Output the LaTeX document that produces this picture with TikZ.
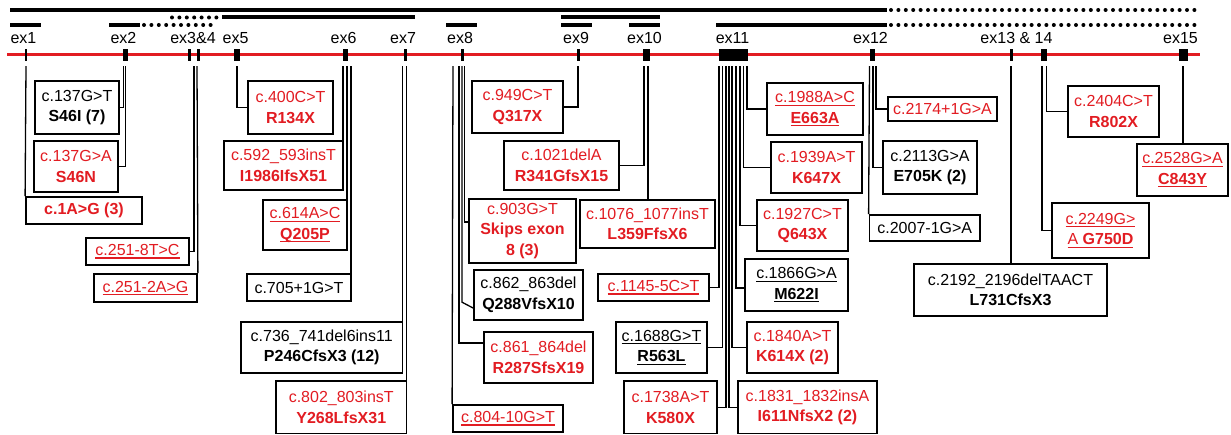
\documentclass[tikz,border=0pt]{standalone}
\usepackage{fontspec}
\setmainfont{Liberation Sans}
\usetikzlibrary{calc}
\definecolor{myred}{RGB}{226,28,34}
\newcommand\uln[1]{\leavevmode\setbox0=\hbox{#1}\rlap{\rule[-3pt]{\wd0}{1.1pt}}\box0}
\newcommand\mutbox[7]{\node[mbox,#6,minimum width={#4-#2},minimum height={#5-#3}] (#1) at ({(#2+#4)/2},{(#3+#5)/2}) {#7};}
\begin{document}
\begin{tikzpicture}[x=1pt,y=-1pt,
  every node/.style={font=\fontsize{16}{20.5}\selectfont},
  mbox/.style={draw=black,line width=1.8pt,inner sep=0pt,align=center,fill=white},
  rd/.style={text=myred},
  blk/.style={text=black},
  exon/.style={fill=black,draw=none,inner sep=0pt,minimum height=12pt},
  lab/.style={anchor=base,inner sep=0pt,text=black},
  conn/.style={draw=black,line width=1.3pt},
  bar/.style={line width=4pt},
  dotbar/.style={line width=4pt,line cap=round,dash pattern=on 0pt off 7.4pt}]
\useasboundingbox (0,0) rectangle (1231,435);

% top bars
\draw[bar] (10,10) -- (887,10);
\draw[dotbar] (891,10) -- (1198,10);
\draw[dotbar] (172,17.5) -- (217,17.5);
\draw[bar] (222,17.5) -- (415,17.5);
\draw[bar] (561,17.5) -- (660,17.5);
\draw[bar] (10,25) -- (41,25);
\draw[bar] (109,25) -- (140,25);
\draw[dotbar] (144,25) -- (213,25);
\draw[bar] (446,25) -- (477,25);
\draw[bar] (561,25) -- (592,25);
\draw[bar] (629,25) -- (660,25);
\draw[bar] (716,25) -- (887,25);
\draw[dotbar] (891,25) -- (1198,25);

% exon labels
\node[lab] (l1) at (23.5,44) {ex1};
\node[lab] (l2) at (123.5,44) {ex2};
\node[lab] (l34) at (193,44) {ex3\&4};
\node[lab] (l5) at (235.5,44) {ex5};
\node[lab] (l6) at (343.5,44) {ex6};
\node[lab] (l7) at (403,44) {ex7};
\node[lab] (l8) at (460,44) {ex8};
\node[lab] (l9) at (576,44) {ex9};
\node[lab] (l10) at (644.5,44) {ex10};
\node[lab] (l11) at (732.5,44) {ex11};
\node[lab] (l12) at (870.5,44) {ex12};
\node[lab] (l1314) at (1016.5,44) {ex13 \& 14};
\node[lab] (l15) at (1180.5,44) {ex15};

% gene line and exons
\coordinate (gs) at (7,55);
\coordinate (ge) at (1200,55);
\draw[myred,line width=3pt] (gs) -- (ge);
\node[exon,minimum width=2pt] (ex1) at (26,55) {};
\node[exon,minimum width=5pt] (ex2) at (125,55) {};
\node[exon,minimum width=3pt] (ex3) at (189.5,55) {};
\node[exon,minimum width=3pt] (ex4) at (198,55) {};
\node[exon,minimum width=6pt] (ex5) at (237,55) {};
\node[exon,minimum width=5pt] (ex6) at (345.5,55) {};
\node[exon,minimum width=3pt] (ex7) at (405,55) {};
\node[exon,minimum width=3pt] (ex8) at (462.5,55) {};
\node[exon,minimum width=3pt] (ex9) at (578,55) {};
\node[exon,minimum width=7pt] (ex10) at (646.5,55) {};
\node[exon,minimum width=29pt] (ex11) at (733.5,55) {};
\node[exon,minimum width=5pt] (ex12) at (872.5,55) {};
\node[exon,minimum width=3pt] (ex13) at (1011,55) {};
\node[exon,minimum width=6pt] (ex14) at (1044,55) {};
\node[exon,minimum width=9pt] (ex15) at (1183.5,55) {};

% boxes
\mutbox{b137T}{35}{81}{119}{134}{blk}{c.137G>T\\\textbf{S46I (7)}}
\mutbox{b137A}{34}{141}{118}{192}{rd}{c.137G>A\\\textbf{S46N}}
\mutbox{b1A}{26}{197}{142}{224}{rd}{\textbf{c.1A>G (3)}}
\mutbox{b251a}{86}{238}{189}{265}{rd}{\uln{c.251-8T>C}}
\mutbox{b251b}{94}{274}{197}{302}{rd}{\uln{c.251-2A>G}}
\mutbox{b400}{248}{81}{333}{134}{rd}{c.400C>T\\\textbf{R134X}}
\mutbox{b592}{224}{141}{343}{190}{rd}{c.592\_593insT\\\textbf{I1986IfsX51}}
\mutbox{b614}{263}{200}{347}{250}{rd}{\uln{c.614A>C}\\\uln{\textbf{Q205P}}}
\mutbox{b705}{247}{274}{351}{301}{blk}{c.705+1G>T}
\mutbox{b736}{241}{322}{402.5}{373}{blk}{c.736\_741del6ins11\\\textbf{P246CfsX3 (12)}}
\mutbox{b802}{276}{381}{406.5}{433.5}{rd}{c.802\_803insT\\\textbf{Y268LfsX31}}
\mutbox{b804}{453}{405}{563}{432}{rd}{\uln{c.804-10G>T}}
\mutbox{b861}{484}{332}{593}{383}{rd}{c.861\_864del\\\textbf{R287SfsX19}}
\mutbox{b862}{474}{270}{583}{320}{blk}{c.862\_863del\\\textbf{Q288VfsX10}}
\mutbox{b903}{469}{199}{576}{263}{rd}{c.903G>T\\\textbf{Skips exon}\\\textbf{8 (3)}}
\mutbox{b949}{472}{81}{563}{133}{rd}{c.949C>T\\\textbf{Q317X}}
\mutbox{b1021}{504}{141}{619}{190}{rd}{c.1021delA\\\textbf{R341GfsX15}}
\mutbox{b1076}{580}{200}{715}{248}{rd}{c.1076\_1077insT\\\textbf{L359FfsX6}}
\mutbox{b1145}{598}{274}{709}{301}{rd}{\uln{c.1145-5C>T}}
\mutbox{b1688}{616}{322}{707}{373}{blk}{\uln{c.1688G>T}\\\uln{\textbf{R563L}}}
\mutbox{b1738}{624}{381}{717}{433.5}{rd}{c.1738A>T\\\textbf{K580X}}
\mutbox{b1831}{738}{381}{877}{433.5}{rd}{c.1831\_1832insA\\\textbf{I611NfsX2 (2)}}
\mutbox{b1840}{747}{322}{838}{373}{rd}{c.1840A>T\\\textbf{K614X (2)}}
\mutbox{b1866}{745}{259}{848}{311}{blk}{\uln{c.1866G>A}\\\uln{\textbf{M622I}}}
\mutbox{b1927}{757}{200}{848}{251}{rd}{c.1927C>T\\\textbf{Q643X}}
\mutbox{b1939}{771}{142}{862}{193}{rd}{c.1939A>T\\\textbf{K647X}}
\mutbox{b1988}{767}{83}{863}{135}{rd}{\uln{c.1988A>C}\\\uln{\textbf{E663A}}}
\mutbox{b2174}{888}{97}{997}{121}{rd}{c.2174+1G>A}
\mutbox{b2113}{883}{141}{977}{194}{blk}{c.2113G>A\\\textbf{E705K (2)}}
\mutbox{b2007}{869.5}{215}{980}{241}{blk}{c.2007-1G>A}
\mutbox{b2192}{914}{264}{1107}{316}{blk}{c.2192\_2196delTAACT\\\textbf{L731CfsX3}}
\mutbox{b2249}{1052}{203}{1149}{258}{rd}{\uln{c.2249G>}\\\uln{A \textbf{G750D}}}
\mutbox{b2404}{1068}{86}{1159}{137}{rd}{c.2404C>T\\\textbf{R802X}}
\mutbox{b2528}{1137}{144}{1228}{196}{rd}{\uln{c.2528G>A}\\\uln{\textbf{C843Y}}}

% connectors
\draw[conn] ($(ex1.south)+(0,5)$) -- (b1A.north west);
\draw[conn] ($(ex2.south)+(-1.5,5)$) |- (b137T.east);
\draw[conn] ($(ex2.south)+(0.5,5)$) |- (b137A.east);
\draw[conn] ($(ex4.south)+(-4,5)$) |- (b251a.east);
\draw[conn] ($(ex4.south)+(-1,5)$) -- (b251b.north east);
\draw[conn] ($(ex5.south)+(0,5)$) |- (b400.west);
\draw[conn] ($(ex6.south)+(-2.5,5)$) coordinate (c61) -- (c61 |- b592.north);
\draw[conn] ($(ex6.south)+(1.5,5)$) coordinate (c62) -- (c62 |- b614.north);
\draw[conn] ($(ex6.south)+(5.5,5)$) coordinate (c63) -- (c63 |- b705.north);
\draw[conn] ($(ex7.south)+(-2.5,5)$) coordinate (c71) -- (c71 |- b736.north);
\draw[conn] ($(ex7.south)+(1.5,5)$) coordinate (c72) -- (c72 |- b802.north);
\draw[conn] ($(ex8.south)+(-9.5,5)$) -- (b804.north west);
\draw[conn] ($(ex8.south)+(-3.5,5)$) |- ([yshift=14.5pt]b861.west);
\draw[conn] ($(ex8.south)+(-0.5,5)$) -- ++(0,236) -- ([yshift=-13pt]b862.west);
\draw[conn] ($(ex8.south)+(2,5)$) |- ([yshift=9pt]b903.west);
\draw[conn] ($(ex9.south)+(0,5)$) |- (b949.east);
\draw[conn] ($(ex10.south)+(-2.5,5)$) |- (b1021.east);
\draw[conn] ($(ex10.south)+(1.5,5)$) coordinate (c102) -- (c102 |- b1076.north);
\draw[conn] ($(ex11.south)+(-14.5,5)$) |- (b1145.east);
\draw[conn] ($(ex11.south)+(-11,5)$) |- (b1688.east);
\draw[conn] ($(ex11.south)+(-7.5,5)$) |- (b1738.east);
\draw[conn] ($(ex11.south)+(-4.5,5)$) |- (b1831.west);
\draw[conn] ($(ex11.south)+(-1.5,5)$) |- (b1840.west);
\draw[conn] ($(ex11.south)+(2.5,5)$) |- ([yshift=-3pt]b1866.west);
\draw[conn] ($(ex11.south)+(6.5,5)$) |- (b1927.west);
\draw[conn] ($(ex11.south)+(10,5)$) |- (b1939.west);
\draw[conn] ($(ex11.south)+(13.5,5)$) |- (b1988.west);
\draw[conn] ($(ex12.south)+(-3,5)$) -- (b2007.north west);
\draw[conn] ($(ex12.south)+(0.5,5)$) |- (b2113.west);
\draw[conn] ($(ex12.south)+(3.5,5)$) |- (b2174.west);
\draw[conn] ($(ex13.south)+(0,5)$) coordinate (c13) -- (c13 |- b2192.north);
\draw[conn] ($(ex14.south)+(-2,5)$) |- (b2249.west);
\draw[conn] ($(ex14.south)+(2.5,5)$) |- (b2404.west);
\draw[conn] ($(ex15.south)+(-0.5,5)$) coordinate (c15) -- (c15 |- b2528.north);
\end{tikzpicture}
\end{document}
